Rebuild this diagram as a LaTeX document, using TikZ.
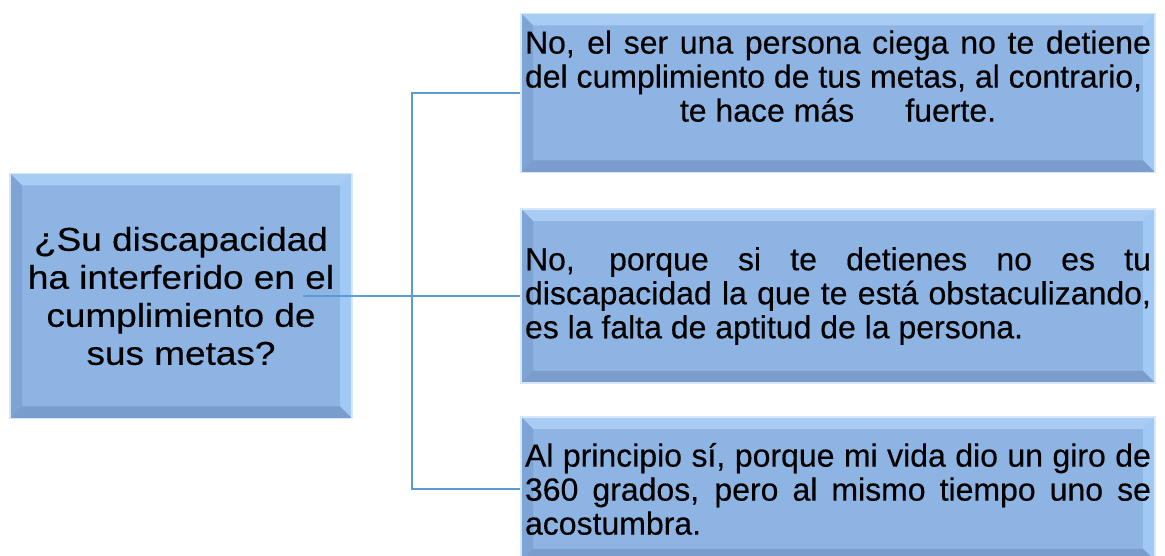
\documentclass[tikz,border=0pt]{standalone}
\usepackage{fontspec}
\newfontfamily\qfont{Liberation Sans}[FakeStretch=1.12,FakeBold=0.4]
\newfontfamily\afont{Liberation Sans}[FakeBold=0.4]
\definecolor{faceblue}{RGB}{141,180,227}
\definecolor{topblue}{RGB}{168,204,243}
\definecolor{rightblue}{RGB}{160,201,246}
\definecolor{leftblue}{RGB}{125,164,213}
\definecolor{bottomblue}{RGB}{122,157,206}
\definecolor{haloblue}{RGB}{214,231,248}
\definecolor{linkblue}{RGB}{91,155,213}

\tikzset{
	bevelbox/.style={fill=faceblue, draw=haloblue, line width=1.5pt,
		path picture={
			\fill[topblue] (path picture bounding box.north west) -- (path picture bounding box.north east)
				-- ([shift={(-12pt,-12pt)}]path picture bounding box.north east) -- ([shift={(12pt,-12pt)}]path picture bounding box.north west) -- cycle;
			\fill[rightblue] (path picture bounding box.north east) -- (path picture bounding box.south east)
				-- ([shift={(-12pt,12pt)}]path picture bounding box.south east) -- ([shift={(-12pt,-12pt)}]path picture bounding box.north east) -- cycle;
			\fill[leftblue] (path picture bounding box.north west) -- (path picture bounding box.south west)
				-- ([shift={(12pt,12pt)}]path picture bounding box.south west) -- ([shift={(12pt,-12pt)}]path picture bounding box.north west) -- cycle;
			\fill[bottomblue] (path picture bounding box.south west) -- (path picture bounding box.south east)
				-- ([shift={(-12pt,12pt)}]path picture bounding box.south east) -- ([shift={(12pt,12pt)}]path picture bounding box.south west) -- cycle;
		}},
	qbox/.style={bevelbox, minimum width=342pt, minimum height=245pt, align=center,
		font=\qfont\fontsize{33}{38}\selectfont},
	abox/.style={bevelbox, minimum width=634pt, text width=626pt, inner sep=4pt, align=justify,
		font=\afont\fontsize{32}{34}\selectfont},
	link/.style={draw=linkblue, line width=2pt}
}

\begin{document}
\begin{tikzpicture}[x=1pt,y=1pt]
	\clip (0,0) rectangle (1165,556);
	\node[qbox] (q) at (181,260) {¿Su discapacidad\\ ha interferido en el\\ cumplimiento de\\ sus metas?};
	\node[abox, minimum height=159pt] (a1) at (838,463) {No, el ser una persona ciega no te detiene\linebreak del cumplimiento de tus metas, al contrario,\par{\centering te hace más\hspace{1.6em}fuerte.\par}\mbox{}};
	\node[abox, minimum height=174pt] (a2) at (838,260) {No, porque si te detienes no es tu\linebreak discapacidad la que te está obstaculizando,\linebreak es la falta de aptitud de la persona.};
	\node[abox, minimum height=144pt] (a3) at (838,67) {Al principio sí, porque mi vida dio un giro de\linebreak 360 grados, pero al mismo tiempo uno se\linebreak acostumbra.};
	\coordinate (qout) at (303,260);
	\coordinate (fork) at (412,260);
	\draw[link] (qout) -- (fork);
	\draw[link] (fork) -- (a2.west);
	\draw[link] (fork) |- (a1.west);
	\draw[link] (fork) |- (a3.west);
\end{tikzpicture}
\end{document}
